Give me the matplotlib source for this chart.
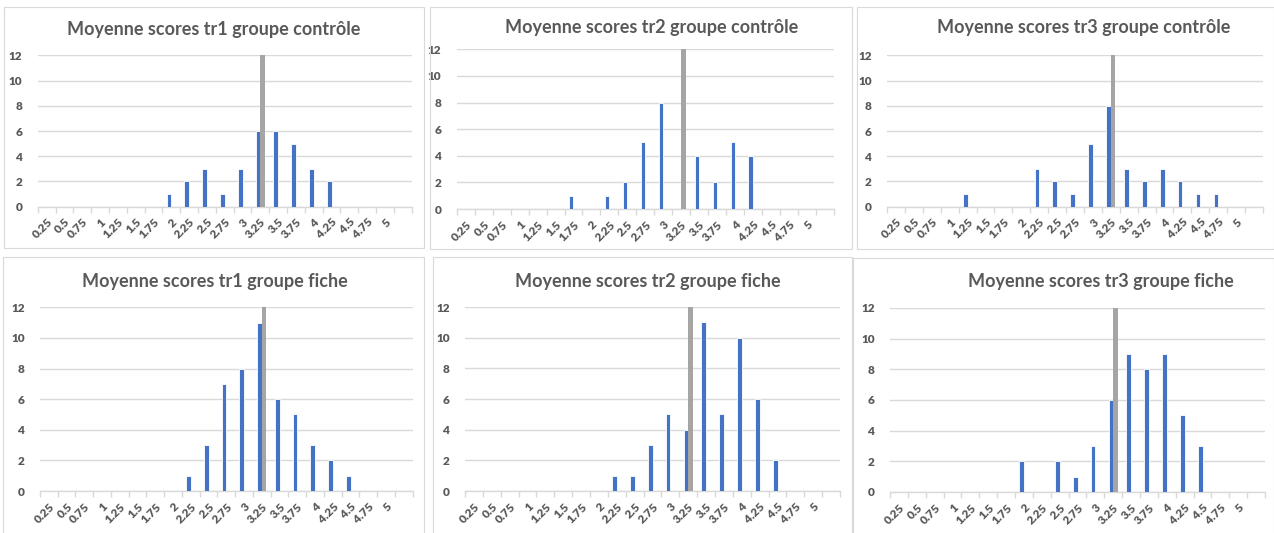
import numpy as np
import matplotlib
matplotlib.use('Agg')
import matplotlib.pyplot as plt
from matplotlib.patches import Rectangle

plt.rcParams['font.family'] = ['Lato', 'DejaVu Sans']

# categories (21st slot is empty, like the Excel source)
categories = ['0.25', '0.5', '0.75', '1', '1.25', '1.5', '1.75', '2', '2.25', '2.5',
              '2.75', '3', '3.25', '3.5', '3.75', '4', '4.25', '4.5', '4.75', '5', '']

ctrl_tr1 = [0, 0, 0, 0, 0, 0, 0, 1, 2, 3, 1, 3, 6, 6, 5, 3, 2, 0, 0, 0, 0]
ctrl_tr2 = [0, 0, 0, 0, 0, 0, 1, 0, 1, 2, 5, 8, 0, 4, 2, 5, 4, 0, 0, 0, 0]
ctrl_tr3 = [0, 0, 0, 0, 1, 0, 0, 0, 3, 2, 1, 5, 8, 3, 2, 3, 2, 1, 1, 0, 0]
fiche_tr1 = [0, 0, 0, 0, 0, 0, 0, 0, 1, 3, 7, 8, 11, 6, 5, 3, 2, 1, 0, 0, 0]
fiche_tr2 = [0, 0, 0, 0, 0, 0, 0, 0, 1, 1, 3, 5, 4, 11, 5, 10, 6, 2, 0, 0, 0]
fiche_tr3 = [0, 0, 0, 0, 0, 0, 0, 2, 0, 2, 1, 3, 6, 9, 8, 9, 5, 3, 0, 0, 0]
# grey marker bar (second series)
repere = [0, 0, 0, 0, 0, 0, 0, 0, 0, 0, 0, 0, 12, 0, 0, 0, 0, 0, 0, 0, 0]

titles = ['Moyenne scores tr1 groupe contrôle', 'Moyenne scores tr2 groupe contrôle',
          'Moyenne scores tr3 groupe contrôle', 'Moyenne scores tr1 groupe fiche',
          'Moyenne scores tr2 groupe fiche', 'Moyenne scores tr3 groupe fiche']
series = [ctrl_tr1, ctrl_tr2, ctrl_tr3, fiche_tr1, fiche_tr2, fiche_tr3]

W, H = 1274, 533
fig = plt.figure(figsize=(W / 100, H / 100), dpi=100)
fig.patch.set_facecolor('white')

# pixel layout: panel box, plot area (x0, x1, y12, y0), title centre
boxes = [(4, 7, 424, 248), (430, 7, 852, 249), (857, 7, 1274, 249),
         (3, 257, 424, 540), (433, 257, 852, 540), (853, 258, 1274, 540)]
plots = [(37.7, 411.7, 55.3, 206.7), (456.7, 834, 49.3, 209), (887, 1263, 55.3, 206.7),
         (40, 412.7, 307.3, 491), (465, 840, 307, 491), (890, 1265, 308, 492)]
title_pos = [(214, 29), (652, 27), (1084, 28), (215, 281), (648, 281), (1101, 281)]

txt = '#595959'
blue = '#4472C4'
grey = '#A5A5A5'
grid = '#D9D9D9'

x = np.arange(len(categories))
w = 0.26

for i in range(6):
    bx0, by0, bx1, by1 = boxes[i]
    fig.patches.append(Rectangle((bx0 / W, 1 - by1 / H), (bx1 - bx0) / W, (by1 - by0) / H,
                                 transform=fig.transFigure, fill=False,
                                 edgecolor='#D9D9D9', linewidth=0.8))
    px0, px1, py12, py0 = plots[i]
    ax = fig.add_axes([px0 / W, 1 - py0 / H, (px1 - px0) / W, (py0 - py12) / H])
    ax.bar(x + 0.5 - 0.13, series[i], width=w, color=blue, edgecolor='white', linewidth=0.6, zorder=3)
    ax.bar(x + 0.5 + 0.13, repere, width=w, color=grey, linewidth=0, zorder=3)
    ax.set_xlim(0, len(categories))
    ax.set_ylim(0, 12)
    ax.set_yticks(np.arange(0, 13, 2))
    ax.yaxis.grid(True, color=grid, linewidth=1)
    ax.set_axisbelow(True)
    for s in ['top', 'right', 'left']:
        ax.spines[s].set_visible(False)
    ax.spines['bottom'].set_color(grid)
    ax.spines['bottom'].set_linewidth(1)
    ax.tick_params(axis='y', length=0, pad=11, labelsize=8.5, labelcolor=txt)
    # category boundary ticks
    ax.set_xticks(np.arange(0, len(categories) + 1), minor=False)
    ax.set_xticklabels([])
    ax.tick_params(axis='x', which='major', length=4, color=grid, width=1)
    ax.set_xticks(x + 0.5, minor=True)
    ax.set_xticklabels(categories, minor=True, rotation=45, ha='right', va='top',
                       rotation_mode='anchor')
    ax.tick_params(axis='x', which='minor', length=0, pad=7, labelsize=8.5, labelcolor=txt)
    for lab in ax.get_xticklabels(minor=True) + ax.get_yticklabels():
        lab.set_fontweight('heavy')
    tx, ty = title_pos[i]
    fig.text(tx / W, 1 - ty / H, titles[i], ha='center', va='center',
             fontsize=13, fontweight='bold', color=txt)

fig.savefig('out.png', dpi=100)
